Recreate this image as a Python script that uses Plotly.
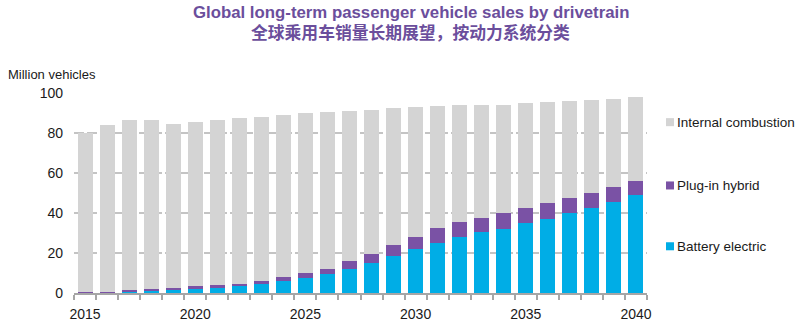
import plotly.graph_objects as go

# Global passenger vehicle sales outlook by drivetrain (million vehicles)
years = list(range(2015, 2041))

battery_electric = [0.3, 0.4, 0.7, 1.1, 1.8, 2.4, 2.6, 3.3, 4.3, 5.8,
                    7.7, 9.3, 11.8, 15.2, 18.4, 22.2, 25.2, 28.2, 30.5, 32.2,
                    34.8, 37.2, 40.2, 42.7, 45.7, 48.8]
plug_in_hybrid = [0.2, 0.3, 0.7, 0.9, 0.8, 0.9, 1.4, 1.2, 1.5, 2.4,
                  2.3, 2.9, 4.2, 4.3, 5.4, 6.0, 7.1, 7.1, 7.2, 7.8,
                  7.7, 7.8, 7.2, 7.1, 7.1, 7.0]
internal_combustion = [79.5, 83.3, 85.1, 84.5, 81.9, 82.4, 82.5, 83.0, 82.4, 80.6,
                       80.0, 78.5, 75.2, 72.2, 68.5, 64.8, 61.4, 58.9, 56.5, 54.2,
                       52.3, 50.3, 48.6, 46.7, 44.4, 42.0]

series_names = ["Battery electric", "Plug-in hybrid", "Internal combustion"]
series_values = [battery_electric, plug_in_hybrid, internal_combustion]
series_colors = ["#00ADE6", "#7A52A5", "#D4D4D4"]

x_tick_years = [2015, 2020, 2025, 2030, 2035, 2040]
y_tick_values = [0, 20, 40, 60, 80, 100]

FONT = "Liberation Sans, Arial, sans-serif"
CJK_FONT = "Noto Sans CJK SC, sans-serif"
TITLE_COLOR = "#6B4E9C"

fig = go.Figure()
for name, values, color in zip(series_names, series_values, series_colors):
    fig.add_trace(go.Bar(
        x=years, y=values, name=name,
        marker=dict(color=color, line=dict(width=0)),
        width=0.68, showlegend=False,
    ))

# Legend: coloured squares with labels to the right of the plot area
legend_rows = {"Internal combustion": 0.85, "Plug-in hybrid": 0.535, "Battery electric": 0.2325}
for name, color in zip(series_names, series_colors):
    yc = legend_rows[name]
    fig.add_shape(type="rect", xref="paper", yref="paper",
                  x0=1.0332, x1=1.0471, y0=yc - 0.02, y1=yc + 0.02,
                  fillcolor=color, line=dict(width=0))
    fig.add_annotation(text=name, xref="paper", yref="paper",
                       x=1.049, y=yc, xanchor="left", yanchor="middle",
                       showarrow=False, font=dict(family=FONT, size=13.5, color="#1a1a1a"))

# Titles and y-axis caption
fig.add_annotation(text="<b>Global long-term passenger vehicle sales by drivetrain</b>",
                   xref="paper", yref="paper", x=0.5875, y=1.397,
                   xanchor="center", yanchor="middle", showarrow=False,
                   font=dict(family=FONT, size=16.8, color=TITLE_COLOR))
fig.add_annotation(text="<b>全球乘用车销量长期展望，按动力系统分类</b>",
                   xref="paper", yref="paper", x=0.5875, y=1.30,
                   xanchor="center", yanchor="middle", showarrow=False,
                   font=dict(family=CJK_FONT, size=16.8, color=TITLE_COLOR))
fig.add_annotation(text="Million vehicles", xref="paper", yref="paper",
                   x=-0.118, y=1.085, xanchor="left", yanchor="middle",
                   showarrow=False, font=dict(family=FONT, size=13, color="#1a1a1a"))

fig.update_layout(
    width=800, height=333,
    margin=dict(l=74, r=153, t=92, b=40, pad=0),
    barmode="stack", bargap=0.32,
    plot_bgcolor="white", paper_bgcolor="white",
    font=dict(family=FONT, size=14, color="#1a1a1a"),
    showlegend=False,
)
fig.update_xaxes(
    range=[2014.5, 2040.5],
    tickmode="array", tickvals=x_tick_years, ticktext=[str(v) for v in x_tick_years],
    ticks="", ticklabelstandoff=7,
    showline=True, linecolor="#A6A6A6", linewidth=1.5,
    showgrid=False, zeroline=False,
    minor=dict(ticks="outside", ticklen=5, tickwidth=1.5, tickcolor="#A6A6A6",
               tick0=2014.5, dtick=1, showgrid=False),
    tickfont=dict(family=FONT, size=14, color="#1a1a1a"),
)
fig.update_yaxes(
    range=[0, 100.5], tickmode="array", tickvals=y_tick_values,
    ticks="", ticklabelstandoff=10,
    showline=False, zeroline=False,
    showgrid=True, gridcolor="#C4C4C4", gridwidth=1.5, griddash="10px,3px",
    tickfont=dict(family=FONT, size=14, color="#1a1a1a"),
)

fig.write_html("out.html")
